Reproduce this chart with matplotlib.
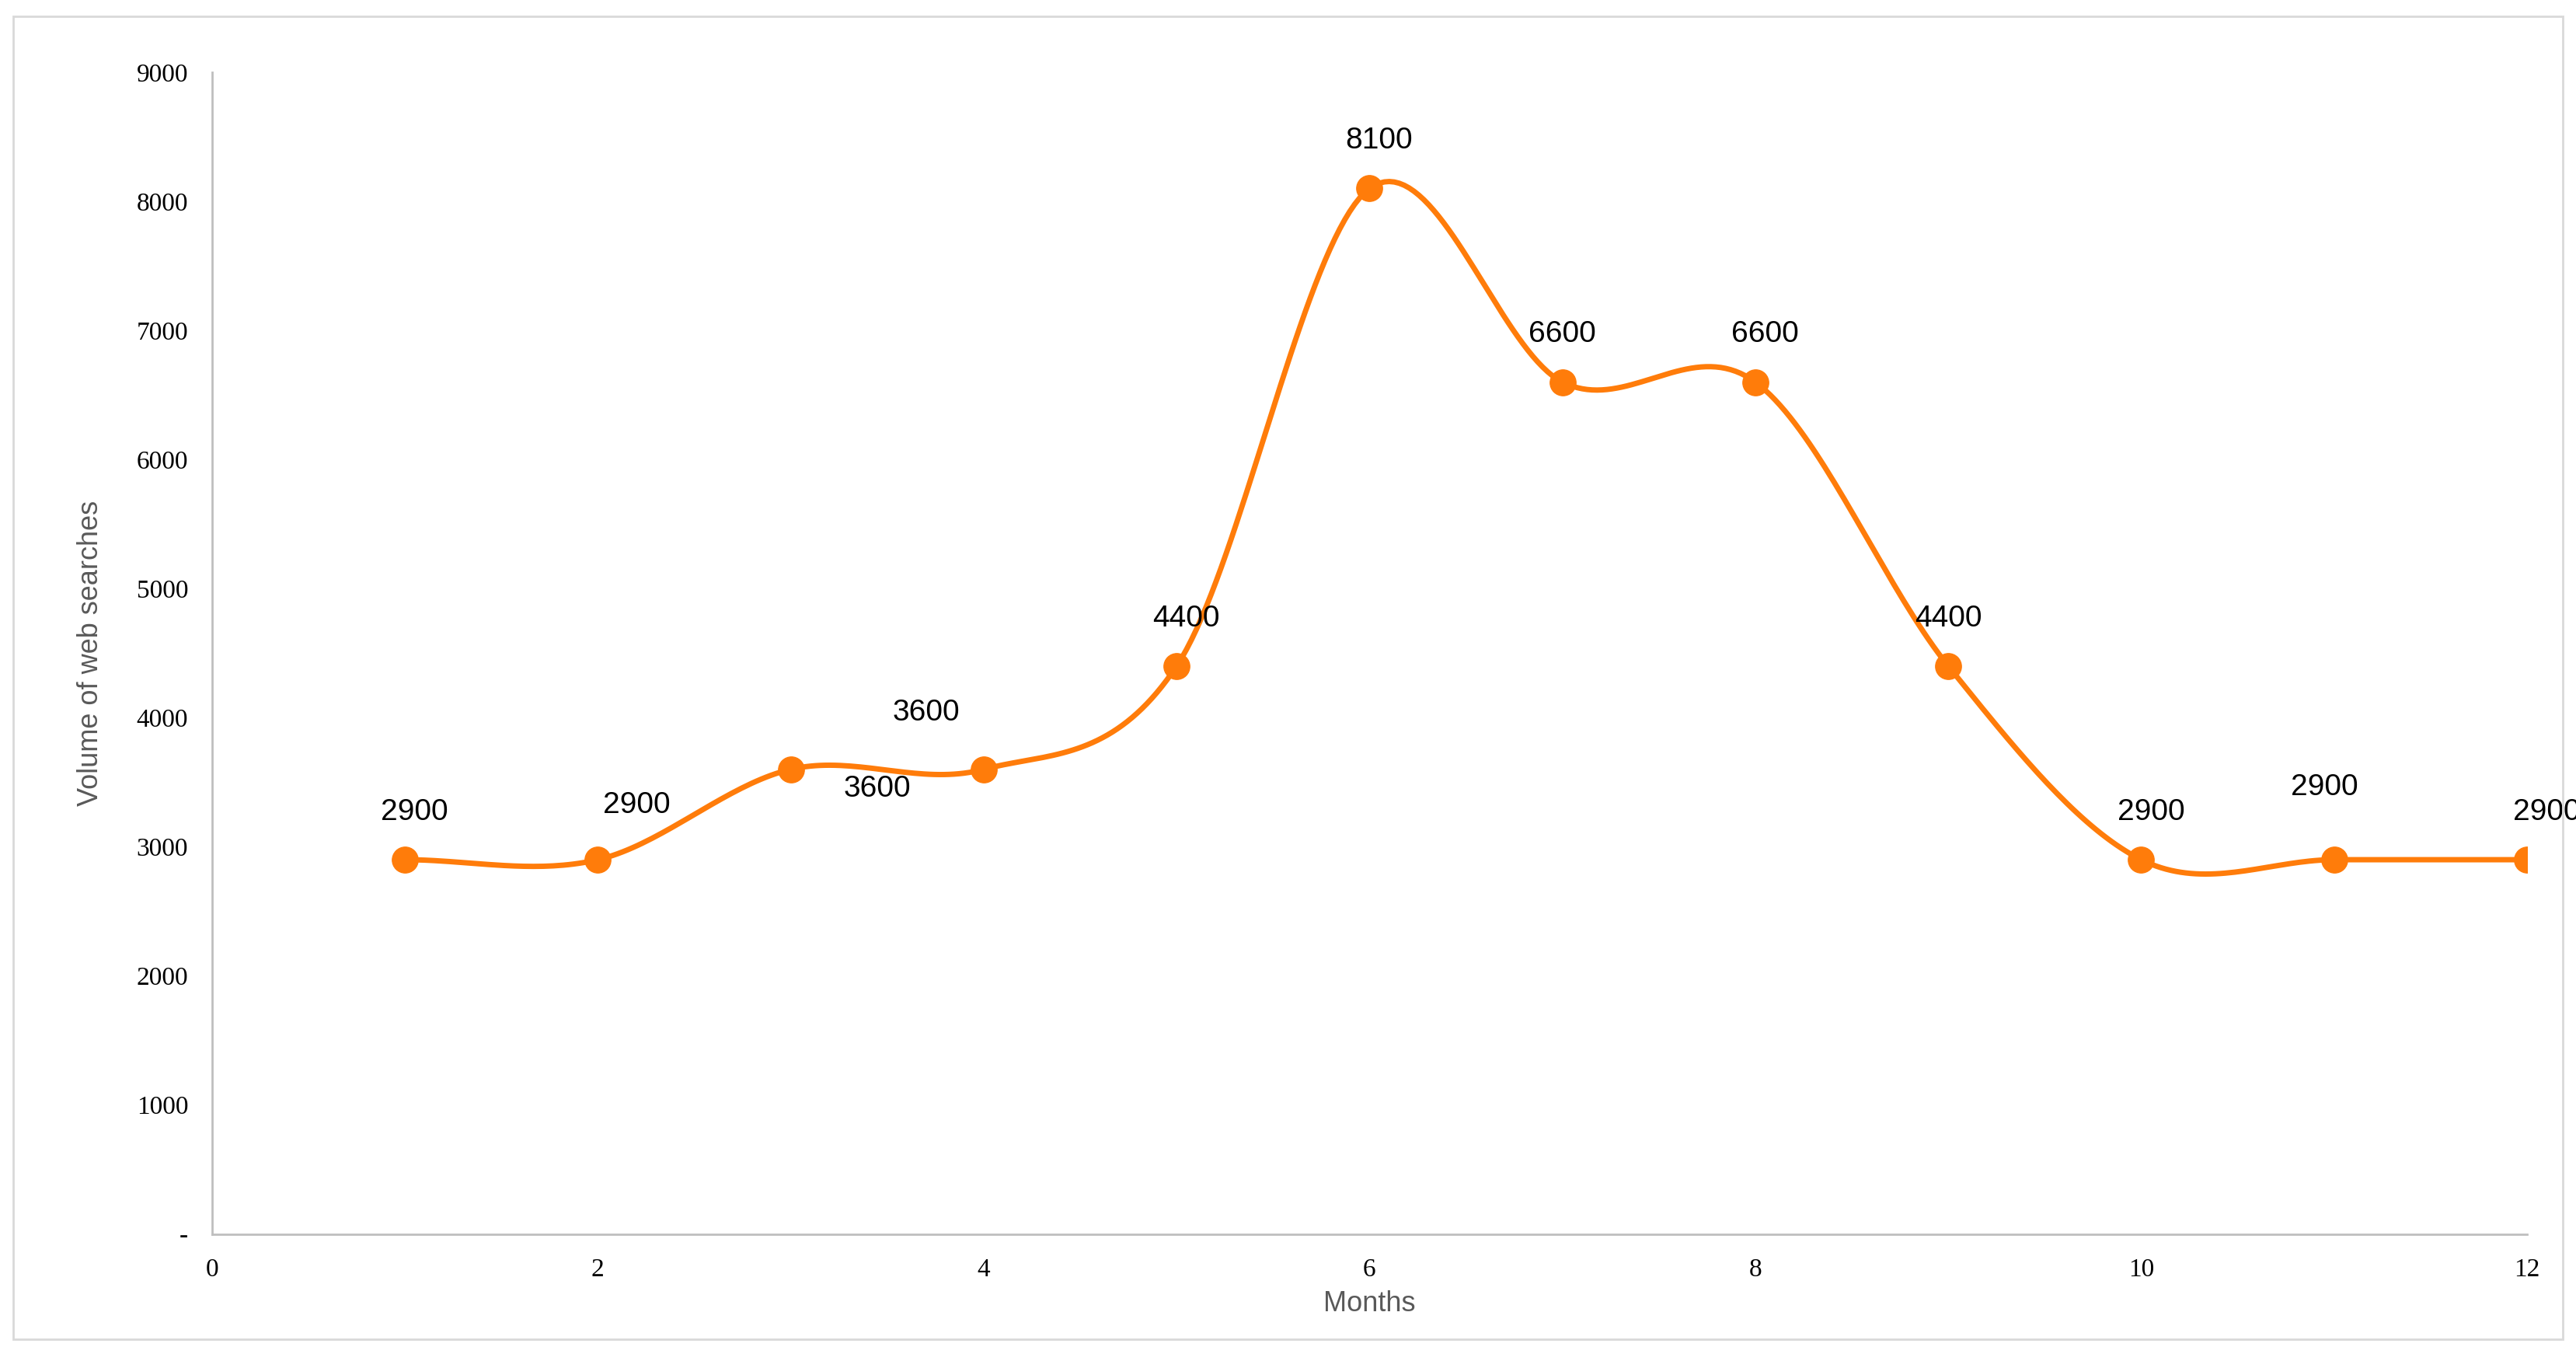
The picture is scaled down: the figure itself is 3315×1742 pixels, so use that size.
import numpy as np
import matplotlib.pyplot as plt
from matplotlib.patches import Rectangle

months = [1, 2, 3, 4, 5, 6, 7, 8, 9, 10, 11, 12]
searches = [2900, 2900, 3600, 3600, 4400, 8100, 6600, 6600, 4400, 2900, 2900, 2900]
# label offsets in (months, searches) units, to mimic where the labels sat
label_dx = [0.05, 0.2, 0.45, -0.3, 0.05, 0.05, 0.0, 0.05, 0.0, 0.05, -0.05, 0.1]
label_dy = [370, 420, -150, 440, 370, 370, 370, 370, 370, 370, 560, 370]
yticks = [0, 1000, 2000, 3000, 4000, 5000, 6000, 7000, 8000, 9000]
ytick_labels = ['-'] + [str(v) for v in yticks[1:]]
xticks = [0, 2, 4, 6, 8, 10, 12]

orange = '#FF7C0A'


def catmull_rom(x, y, n=40):
    # Excel-style smoothed line between the points
    x = np.asarray(x, float)
    y = np.asarray(y, float)
    px = np.concatenate([[2 * x[0] - x[1]], x, [2 * x[-1] - x[-2]]])
    py = np.concatenate([[2 * y[0] - y[1]], y, [2 * y[-1] - y[-2]]])
    xs, ys = [], []
    t = np.linspace(0, 1, n)
    for i in range(1, len(px) - 2):
        for p, out in ((px, xs), (py, ys)):
            p0, p1, p2, p3 = p[i - 1], p[i], p[i + 1], p[i + 2]
            out.extend(0.5 * (2 * p1 + (-p0 + p2) * t
                              + (2 * p0 - 5 * p1 + 4 * p2 - p3) * t ** 2
                              + (-p0 + 3 * p1 - 3 * p2 + p3) * t ** 3))
    return np.array(xs), np.array(ys)


fig = plt.figure(figsize=(33.15, 17.42), dpi=100)
fig.patches.append(Rectangle((0.005, 0.011), 0.990, 0.977, transform=fig.transFigure,
                             fill=False, edgecolor='#d9d9d9', linewidth=2))
ax = fig.add_axes([0.0823, 0.0886, 0.8987, 0.858])

sx, sy = catmull_rom(months, searches)
ax.plot(sx, sy, color=orange, linewidth=5, zorder=2)
ax.plot(months, searches, 'o', color=orange, markersize=24, zorder=3)
for m, v, dx, dy in zip(months, searches, label_dx, label_dy):
    ax.text(m + dx, v + dy, str(v), ha='center', va='center', fontsize=28,
            family='Liberation Sans', color='black')

ax.set_xlim(0, 12)
ax.set_ylim(0, 9000)
ax.set_xticks(xticks)
ax.set_yticks(yticks)
ax.set_yticklabels(ytick_labels)
ax.tick_params(length=0, labelsize=24, pad=22)
for lab in ax.get_xticklabels() + ax.get_yticklabels():
    lab.set_family('Liberation Serif')
for s in ['top', 'right']:
    ax.spines[s].set_visible(False)
for s in ['left', 'bottom']:
    ax.spines[s].set_color('#bfbfbf')
    ax.spines[s].set_linewidth(2)
ax.set_xlabel('Months', fontsize=26, color='#595959', family='Liberation Sans', labelpad=8)
ax.set_ylabel('Volume of web searches', fontsize=26, color='#595959', family='Liberation Sans', labelpad=30)

fig.savefig('out.png', dpi=100)
